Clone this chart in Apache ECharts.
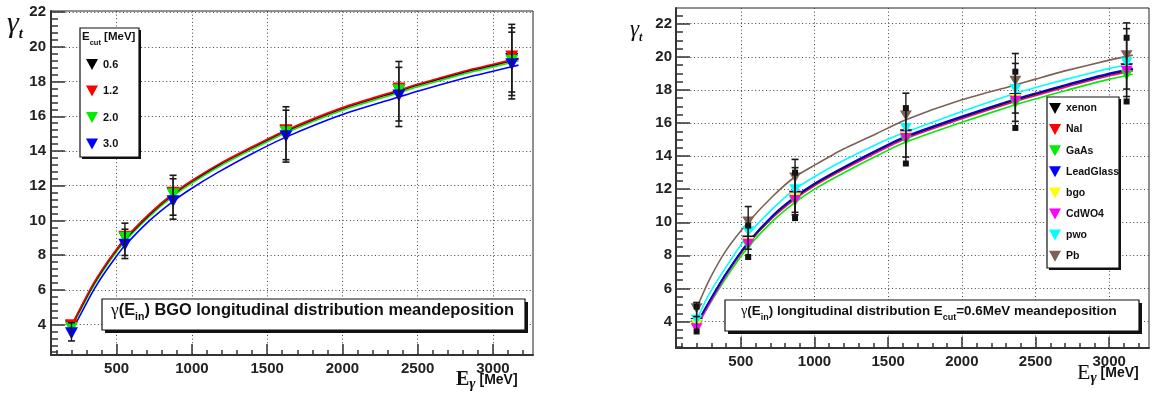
<!DOCTYPE html>
<html><head><meta charset="utf-8">
<script src="https://cdn.jsdelivr.net/npm/echarts@6/dist/echarts.min.js"></script>
<style>html,body{margin:0;padding:0;background:#fff}#c{width:1157px;height:399px}</style>
</head><body><div id="c"></div>
<script>
// ---------------- data: left panel (BGO, several E_cut) ----------------
const X_TICKS = [500, 1000, 1500, 2000, 2500, 3000];
const Y_TICKS = [4, 6, 8, 10, 12, 14, 16, 18, 20, 22];

const L_NAMES = ['0.6', '1.2', '2.0', '3.0'];
const L_COLORS = ['#000000', '#ff0000', '#00ee00', '#0000ff'];
const L_X = [200, 555, 875, 1625, 2375, 3125];
const L_06 = [3.9, 9.0, 11.55, 15.15, 17.5, 19.3];
const L_12 = [3.95, 9.05, 11.6, 15.2, 17.6, 19.45];
const L_20 = [3.8, 9.0, 11.5, 15.1, 17.5, 19.2];
const L_30 = [3.5, 8.6, 11.1, 14.85, 17.2, 19.0];

const L_FIT_X = [200, 280, 345, 410, 500, 555, 720, 875, 1000, 1170, 1390, 1625, 2000, 2370, 2500, 2800, 3000, 3170];
const L_FIT_06 = [3.9, 5.25, 6.3, 7.2, 8.3, 8.9, 10.35, 11.5, 12.25, 13.15, 14.15, 15.15, 16.45, 17.45, 17.8, 18.53, 18.95, 19.3];
const L_FIT_12 = [3.95, 5.3, 6.35, 7.25, 8.35, 8.95, 10.4, 11.55, 12.3, 13.2, 14.2, 15.2, 16.5, 17.5, 17.85, 18.58, 19.0, 19.35];
const L_FIT_20 = [3.85, 5.15, 6.2, 7.1, 8.2, 8.8, 10.25, 11.4, 12.15, 13.05, 14.05, 15.05, 16.35, 17.35, 17.7, 18.43, 18.85, 19.2];
const L_FIT_30 = [3.6, 4.9, 5.95, 6.85, 7.95, 8.55, 10.0, 11.1, 11.85, 12.75, 13.8, 14.8, 16.1, 17.1, 17.45, 18.18, 18.6, 18.95];

const L_ERR1_LO = [3.05, 7.8, 10.07, 13.36, 15.41, 17.0];
const L_ERR1_HI = [4.1, 9.84, 12.6, 16.55, 19.16, 21.3];
const L_ERR2_LO = [null, 7.98, 10.3, 13.5, 15.73, 17.2];
const L_ERR2_HI = [null, 9.49, 12.4, 16.35, 18.82, 21.1];
const L_ERR3_LO = [null, null, null, null, null, 17.4];
const L_ERR3_HI = [null, null, null, null, null, 20.85];

// ---------------- data: right panel (materials, E_cut = 0.6 MeV) ----------------
const R_NAMES = ['xenon', 'NaI', 'GaAs', 'LeadGlass', 'bgo', 'CdWO4', 'pwo', 'Pb'];
const R_COLORS = ['#000000', '#ff0000', '#00ee00', '#0000ff', '#ffff00', '#ff00ff', '#00ffff', '#7d6154'];
const R_X = [200, 550, 868, 1620, 2363, 3118];
const R_XENON = [3.9, 8.9, 11.6, 15.3, 17.5, 19.3];
const R_NAI = [3.8, 8.8, 11.5, 15.2, 17.45, 19.25];
const R_GAAS = [3.75, 8.6, 11.25, 14.95, 17.2, 18.9];
const R_LEADGLASS = [3.9, 8.85, 11.55, 15.3, 17.5, 19.3];
const R_BGO = [3.85, 8.8, 11.5, 15.2, 17.45, 19.2];
const R_CDWO4 = [3.6, 8.7, 11.35, 15.1, 17.35, 19.15];
const R_PWO = [4.1, 9.45, 12.0, 15.7, 18.05, 19.65];
const R_PB = [4.8, 10.05, 12.7, 16.45, 18.55, 20.1];

const R_FIT_X = [200, 285, 400, 550, 720, 868, 1000, 1190, 1430, 1620, 2000, 2363, 2500, 2700, 3000, 3160];
const R_FIT_XENON = [3.85, 5.2, 6.9, 8.75, 10.4, 11.5, 12.3, 13.25, 14.35, 15.15, 16.35, 17.4, 17.75, 18.25, 18.95, 19.25];
const R_FIT_NAI = [3.8, 5.15, 6.85, 8.7, 10.35, 11.45, 12.25, 13.2, 14.3, 15.1, 16.3, 17.35, 17.7, 18.2, 18.9, 19.2];
const R_FIT_GAAS = [3.7, 5.0, 6.65, 8.5, 10.1, 11.2, 12.0, 12.95, 14.05, 14.85, 16.05, 17.1, 17.45, 17.95, 18.65, 18.95];
const R_FIT_LEADGLASS = [3.85, 5.2, 6.9, 8.8, 10.45, 11.55, 12.35, 13.3, 14.4, 15.2, 16.4, 17.45, 17.8, 18.3, 19.0, 19.3];
const R_FIT_BGO = [3.85, 5.2, 6.9, 8.75, 10.4, 11.5, 12.3, 13.25, 14.35, 15.15, 16.35, 17.4, 17.75, 18.25, 18.95, 19.25];
const R_FIT_CDWO4 = [3.65, 5.05, 6.8, 8.7, 10.3, 11.4, 12.2, 13.15, 14.25, 15.05, 16.25, 17.3, 17.65, 18.15, 18.85, 19.15];
const R_FIT_PWO = [4.1, 5.65, 7.3, 9.25, 10.85, 12.0, 12.75, 13.7, 14.75, 15.45, 16.7, 17.8, 18.15, 18.62, 19.3, 19.6];
const R_FIT_PB = [4.8, 6.5, 8.3, 10.0, 11.6, 12.75, 13.45, 14.4, 15.4, 16.2, 17.4, 18.3, 18.65, 19.15, 19.8, 20.1];

const R_ERR1_LO = [3.4, 7.9, 10.25, 13.55, 15.7, 17.3];
const R_ERR1_HI = [4.9, 9.8, 13.0, 16.9, 19.1, 21.15];
const R_ERR2_LO = [4.3, 8.37, 10.6, 13.94, 16.1, 17.6];
const R_ERR2_HI = [5.15, 10.95, 13.8, 17.8, 20.2, 22.05];
const R_ERR3_LO = [null, null, 10.45, null, 16.6, 18.05];
const R_ERR3_HI = [null, null, 13.3, null, 19.6, 21.7];

// ---------------- helpers ----------------
const SANS = 'Liberation Sans';
const SERIF = 'Liberation Serif';
function minorList(from, to, step) {
  const out = [];
  for (let v = from; v <= to + 1e-9; v += step) out.push(Math.round(v * 100) / 100);
  return out;
}
const plain = v => String(v);
function xAxesFor(grid, min, max, majLen, minLen) {
  return [
    { type: 'value', gridIndex: grid, min, max, position: 'bottom',
      axisLine: { show: true, onZero: false, lineStyle: { color: '#333', width: 2 } },
      axisTick: { show: true, inside: true, length: majLen, customValues: X_TICKS, lineStyle: { color: '#333', width: 1.5 } },
      axisLabel: { customValues: X_TICKS, formatter: plain, margin: 6, fontSize: 15, fontWeight: 'bold', fontFamily: SANS, color: '#222' },
      splitLine: { show: true, lineStyle: { color: '#444', width: 1, type: [1, 2.6] } } },
    { type: 'value', gridIndex: grid, min, max, position: 'bottom',
      axisLine: { show: false },
      axisTick: { show: true, inside: true, length: minLen, customValues: minorList(100, 3200, 100), lineStyle: { color: '#333', width: 1.5 } },
      axisLabel: { show: false }, splitLine: { show: false } }
  ];
}
function yAxesFor(grid, min, max, majLen, minLen, minorStep, margin) {
  return [
    { type: 'value', gridIndex: grid, min, max, position: 'left',
      axisLine: { show: true, onZero: false, lineStyle: { color: '#333', width: 2 } },
      axisTick: { show: true, inside: true, length: majLen, customValues: Y_TICKS, lineStyle: { color: '#333', width: 1.5 } },
      axisLabel: { customValues: Y_TICKS, formatter: plain, margin, fontSize: 15, fontWeight: 'bold', fontFamily: SANS, color: '#222' },
      splitLine: { show: true, lineStyle: { color: '#444', width: 1, type: [1, 2.6] } } },
    { type: 'value', gridIndex: grid, min, max, position: 'left',
      axisLine: { show: false },
      axisTick: { show: true, inside: true, length: minLen, customValues: minorList(Math.ceil(min / minorStep) * minorStep, max, minorStep), lineStyle: { color: '#333', width: 1.5 } },
      axisLabel: { show: false }, splitLine: { show: false } }
  ];
}
function fitSeries(name, xi, yi, xs, ys, color) {
  return { name: name + ' fit', type: 'line', xAxisIndex: xi, yAxisIndex: yi, data: xs.map((x, i) => [x, ys[i]]),
    smooth: 0.2, showSymbol: false, silent: true, z: 2,
    lineStyle: { color, width: 1.6 }, itemStyle: { color } };
}
function markSeries(name, xi, yi, xs, ys, color, size) {
  return { name, type: 'scatter', xAxisIndex: xi, yAxisIndex: yi, data: xs.map((x, i) => [x, ys[i]]),
    symbol: 'triangle', symbolRotate: 180, symbolSize: size, z: 3, silent: true, itemStyle: { color, opacity: 1 } };
}
function errSeries(xi, yi, xs, lo, hi, capW, square) {
  const data = [];
  xs.forEach((x, i) => { if (lo[i] != null) data.push([x, lo[i], hi[i]]); });
  return { type: 'custom', xAxisIndex: xi, yAxisIndex: yi, data, z: 6, silent: true,
    renderItem(params, api) {
      const a = api.coord([api.value(0), api.value(1)]);
      const b = api.coord([api.value(0), api.value(2)]);
      const st = { stroke: '#1a1a1a', lineWidth: 1.4 };
      const ch = [{ type: 'line', shape: { x1: a[0], y1: a[1], x2: b[0], y2: b[1] }, style: st }];
      [a, b].forEach(p => {
        if (square) ch.push({ type: 'rect', shape: { x: p[0] - 3, y: p[1] - 3, width: 6, height: 6 }, style: { fill: '#111' } });
        else ch.push({ type: 'line', shape: { x1: p[0] - capW, y1: p[1], x2: p[0] + capW, y2: p[1] }, style: { stroke: '#1a1a1a', lineWidth: 1.6 } });
      });
      return { type: 'group', children: ch };
    } };
}

// ---------------- series ----------------
const L_MARKS = [L_06, L_12, L_20, L_30];
const L_FITS = [L_FIT_06, L_FIT_12, L_FIT_20, L_FIT_30];
const R_MARKS = [R_XENON, R_NAI, R_GAAS, R_LEADGLASS, R_BGO, R_CDWO4, R_PWO, R_PB];
const R_FITS = [R_FIT_XENON, R_FIT_NAI, R_FIT_GAAS, R_FIT_LEADGLASS, R_FIT_BGO, R_FIT_CDWO4, R_FIT_PWO, R_FIT_PB];

const series = [];
[3, 2, 0, 1].forEach(i => series.push(fitSeries(L_NAMES[i], 0, 0, L_FIT_X, L_FITS[i], L_COLORS[i])));
L_NAMES.forEach((n, i) => series.push(markSeries(n, 0, 0, L_X, L_MARKS[i], L_COLORS[i], [13, 12])));
series.push(errSeries(0, 0, L_X, L_ERR1_LO, L_ERR1_HI, 3.5, false));
series.push(errSeries(0, 0, L_X, L_ERR2_LO, L_ERR2_HI, 3.5, false));
series.push(errSeries(0, 0, L_X, L_ERR3_LO, L_ERR3_HI, 3.5, false));

[2, 5, 1, 4, 0, 3, 6, 7].forEach(i => series.push(fitSeries(R_NAMES[i], 2, 2, R_FIT_X, R_FITS[i], R_COLORS[i])));
R_NAMES.forEach((n, i) => series.push(markSeries(n, 2, 2, R_X, R_MARKS[i], R_COLORS[i], [12, 10])));
series.push(errSeries(2, 2, R_X, R_ERR1_LO, R_ERR1_HI, 3.5, true));
series.push(errSeries(2, 2, R_X, R_ERR2_LO, R_ERR2_HI, 3.5, false));
series.push(errSeries(2, 2, R_X, R_ERR3_LO, R_ERR3_HI, 3.5, false));

// ---------------- decorations ----------------
function boxWithShadow(x, y, w, h, sh) {
  return [
    { type: 'rect', z: 20, shape: { x: x + sh, y: y + sh, width: w, height: h }, style: { fill: '#111' }, silent: true },
    { type: 'rect', z: 21, shape: { x, y, width: w, height: h }, style: { fill: '#fff', stroke: '#111', lineWidth: 1.2 }, silent: true }
  ];
}
const subRich = (main, sub) => ({
  n: { fontFamily: SANS, fontWeight: 'bold', fontSize: main, lineHeight: main + 8, fill: '#111' },
  g: { fontFamily: SERIF, fontSize: main + 1, lineHeight: main + 8, fill: '#111' },
  s: { fontFamily: SANS, fontWeight: 'bold', fontSize: sub, lineHeight: sub, verticalAlign: 'bottom', fill: '#111' }
});

const graphic = [].concat(
  boxWithShadow(80, 28, 59, 129, 2),
  boxWithShadow(102, 299, 423, 31, 3),
  boxWithShadow(725, 300, 414, 31, 3),
  boxWithShadow(1047, 97, 72, 171, 2),
  [
    { type: 'text', z: 25, left: 82, top: 31, silent: true,
      style: { text: '{n|E}{s|cut}{n| [MeV]}', rich: subRich(11.5, 7.5) } },
    { type: 'text', z: 25, left: 111, top: 302, silent: true,
      style: { text: '{g|γ}{n|(E}{s|in}{n|) BGO longitudinal distribution meandeposition}', rich: subRich(16.4, 10.5) } },
    { type: 'text', z: 25, left: 741, top: 304, silent: true,
      style: { text: '{g|γ}{n|(E}{s|in}{n|) longitudinal distribution E}{s|cut}{n|=0.6MeV meandeposition}', rich: subRich(13.4, 9) } },
    // y titles
    { type: 'text', z: 25, left: 7, top: 9, silent: true,
      style: { text: '{g|γ}{t|t}', rich: {
        g: { fontFamily: SERIF, fontStyle: 'italic', fontSize: 30, lineHeight: 36, fill: '#111' },
        t: { fontFamily: SERIF, fontStyle: 'italic', fontWeight: 'bold', fontSize: 15, lineHeight: 15, verticalAlign: 'bottom', fill: '#111' } } } },
    { type: 'text', z: 25, left: 630, top: 18, silent: true,
      style: { text: '{g|γ}{t|t}', rich: {
        g: { fontFamily: SERIF, fontStyle: 'italic', fontSize: 23, lineHeight: 28, fill: '#111' },
        t: { fontFamily: SERIF, fontStyle: 'italic', fontWeight: 'bold', fontSize: 12, lineHeight: 12, verticalAlign: 'bottom', fill: '#111' } } } },
    // x titles
    { type: 'text', z: 25, left: 456, top: 370, silent: true,
      style: { text: '{e|E}{g|γ}{u| [MeV]}', rich: {
        e: { fontFamily: SERIF, fontWeight: 'bold', fontSize: 20, lineHeight: 24, fill: '#111' },
        g: { fontFamily: SERIF, fontStyle: 'italic', fontWeight: 'bold', fontSize: 15, lineHeight: 15, verticalAlign: 'bottom', fill: '#111' },
        u: { fontFamily: SANS, fontWeight: 'bold', fontSize: 14, lineHeight: 24, fill: '#111' } } } },
    { type: 'text', z: 25, left: 1077, top: 362, silent: true,
      style: { text: '{e|E}{g|γ}{u| [MeV]}', rich: {
        e: { fontFamily: SERIF, fontSize: 22, lineHeight: 26, fill: '#111' },
        g: { fontFamily: SERIF, fontStyle: 'italic', fontWeight: 'bold', fontSize: 15, lineHeight: 15, verticalAlign: 'bottom', fill: '#111' },
        u: { fontFamily: SANS, fontWeight: 'bold', fontSize: 14, lineHeight: 26, fill: '#111' } } } }
  ]
);

const chart = echarts.init(document.getElementById('c'), null, { renderer: 'canvas' });
chart.setOption({
  animation: false,
  backgroundColor: '#fff',
  grid: [
    { left: 51, top: 11, width: 482, height: 344, show: true, borderColor: '#222', borderWidth: 1, backgroundColor: 'transparent', containLabel: false },
    { left: 676, top: 8, width: 473, height: 340, show: true, borderColor: '#222', borderWidth: 1, backgroundColor: 'transparent', containLabel: false }
  ],
  xAxis: [].concat(xAxesFor(0, 64, 3266, 11, 5), xAxesFor(1, 60, 3270, 11, 5)),
  yAxis: [].concat(yAxesFor(0, 2.24, 22.07, 14, 7, 0.4, 5), yAxesFor(1, 2.4, 22.95, 14, 7, 0.5, 4)),
  legend: [
    { data: L_NAMES, orient: 'vertical', left: 86, top: 59, padding: 0, itemWidth: 12, itemHeight: 11, itemGap: 15.5,
      icon: 'path://M0,0L12,0L6,11Z', selectedMode: false, z: 30,
      textStyle: { fontSize: 11, fontWeight: 'bold', fontFamily: SANS, color: '#111' } },
    { data: R_NAMES, orient: 'vertical', left: 1049, top: 103, padding: 0, itemWidth: 12, itemHeight: 11, itemGap: 10.1,
      icon: 'path://M0,0L12,0L6,11Z', selectedMode: false, z: 30,
      textStyle: { fontSize: 10.5, fontWeight: 'bold', fontFamily: SANS, color: '#111' } }
  ],
  tooltip: { show: false },
  graphic,
  series
});
</script></body></html>
